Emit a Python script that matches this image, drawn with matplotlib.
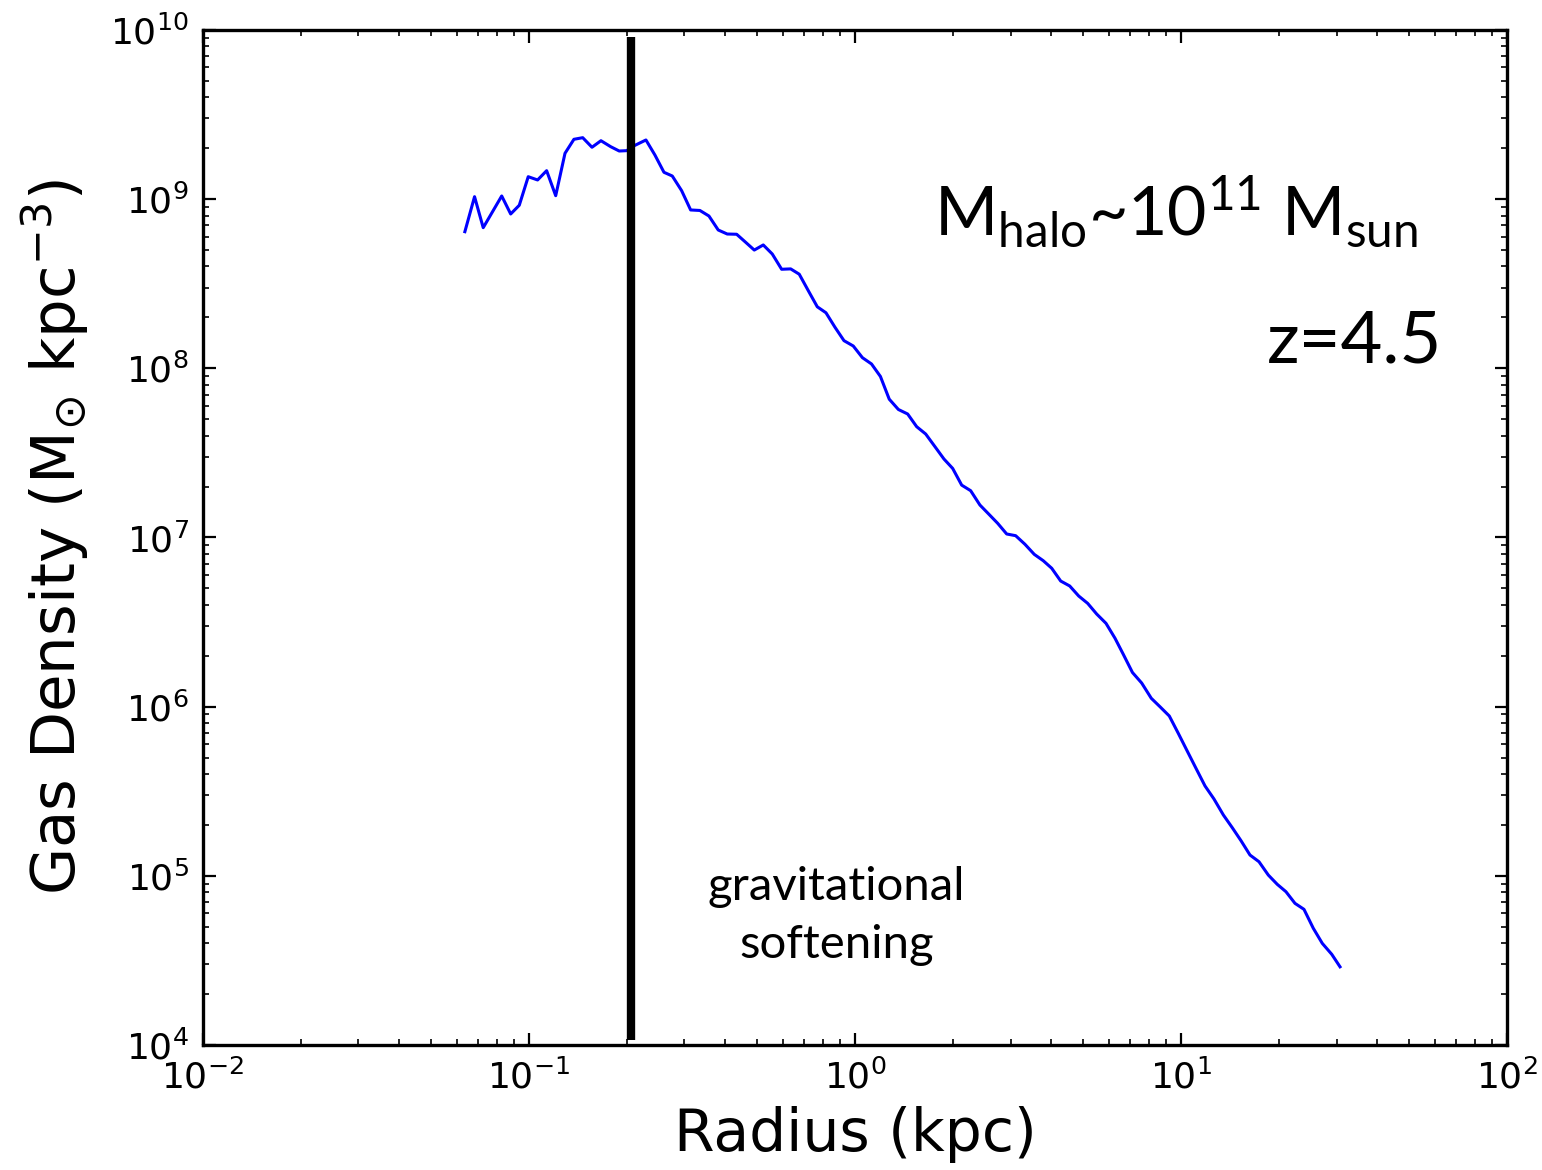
import matplotlib
matplotlib.use("Agg")
import matplotlib.pyplot as plt

# radius (kpc) and gas density (Msun / kpc^3)
radius = [0.0636, 0.0681, 0.0724, 0.0825, 0.0879, 0.0934, 0.0995, 0.1063, 0.1133, 0.1208,
          0.1290, 0.1374, 0.1462, 0.1561, 0.1663, 0.1781, 0.1892, 0.1994, 0.2104, 0.2285,
          0.2434, 0.2595, 0.2752, 0.2940, 0.3133, 0.3345, 0.3565, 0.3807, 0.4057, 0.4336,
          0.4620, 0.4911, 0.5233, 0.5576, 0.5958, 0.6350, 0.6747, 0.7190, 0.7664, 0.8148,
          0.8685, 0.9254, 0.9881, 1.054, 1.124, 1.197, 1.274, 1.359, 1.451, 1.546,
          1.648, 1.760, 1.875, 1.994, 2.125, 2.264, 2.417, 2.571, 2.740, 2.920,
          3.111, 3.322, 3.548, 3.781, 4.013, 4.276, 4.557, 4.856, 5.174, 5.513,
          5.888, 6.274, 6.653, 7.099, 7.576, 8.108, 8.623, 9.208, 9.811, 10.45,
          11.12, 11.85, 12.62, 13.49, 14.37, 15.28, 16.28, 17.35, 18.53, 19.74,
          20.99, 22.37, 23.84, 25.46, 27.13, 29.00, 30.75]
density = [6.42e8, 1.034e9, 6.78e8, 1.044e9, 8.17e8, 9.20e8, 1.357e9, 1.298e9, 1.473e9, 1.048e9,
           1.866e9, 2.258e9, 2.308e9, 2.026e9, 2.215e9, 2.042e9, 1.925e9, 1.934e9, 2.070e9, 2.237e9,
           1.824e9, 1.441e9, 1.370e9, 1.122e9, 8.63e8, 8.57e8, 7.95e8, 6.57e8, 6.22e8, 6.20e8,
           5.56e8, 5.00e8, 5.36e8, 4.74e8, 3.85e8, 3.87e8, 3.60e8, 2.88e8, 2.31e8, 2.13e8,
           1.748e8, 1.457e8, 1.355e8, 1.156e8, 1.061e8, 8.95e7, 6.57e7, 5.71e7, 5.37e7, 4.52e7,
           4.09e7, 3.44e7, 2.91e7, 2.56e7, 2.04e7, 1.891e7, 1.556e7, 1.377e7, 1.213e7, 1.049e7,
           1.025e7, 9.12e6, 7.95e6, 7.29e6, 6.58e6, 5.53e6, 5.17e6, 4.51e6, 4.08e6, 3.53e6,
           3.11e6, 2.54e6, 2.04e6, 1.592e6, 1.380e6, 1.121e6, 9.99e5, 8.81e5, 6.96e5, 5.47e5,
           4.32e5, 3.40e5, 2.85e5, 2.29e5, 1.925e5, 1.614e5, 1.328e5, 1.212e5, 1.011e5, 8.91e4,
           8.06e4, 6.88e4, 6.34e4, 4.90e4, 3.99e4, 3.44e4, 2.90e4]

softening = 0.205  # kpc
xlim = (1e-2, 1e2)
ylim = (1e4, 1e10)

plt.rcParams['mathtext.fontset'] = 'custom'
plt.rcParams['mathtext.rm'] = 'Lato'
plt.rcParams['mathtext.sf'] = 'DejaVu Sans'

fig = plt.figure(figsize=(15.42, 11.7), dpi=100)
ax = fig.add_axes([0.1316, 0.1068, 0.8457, 0.8676])

ax.plot(radius, density, color='#0000ff', lw=2.2)
ax.vlines(softening, 1.07e4, 9.1e9, color='black', lw=6)

ax.set_xscale('log')
ax.set_yscale('log')
ax.set_xlim(*xlim)
ax.set_ylim(*ylim)

for s in ax.spines.values():
    s.set_linewidth(2.4)
ax.tick_params(which='both', direction='in', top=True, right=True)
ax.tick_params(which='major', length=9, width=1.6, labelsize=26, pad=10)
ax.tick_params(which='minor', length=4, width=1.2)
for lab in ax.get_xticklabels() + ax.get_yticklabels():
    lab.set_family('DejaVu Sans')

ax.set_xlabel('Radius (kpc)', fontsize=42, family='DejaVu Sans', labelpad=8)
ax.set_ylabel(r'Gas Density (M$_{\mathsf{\odot}}$ kpc$^{\mathsf{-3}}$)', fontsize=44,
              family='DejaVu Sans', labelpad=14)

ax.text(0.932, 0.798, r'M$_{\rm halo}$~10$^{\rm 11}$ M$_{\rm sun}$', transform=ax.transAxes,
        fontsize=49, family='Lato', ha='right', va='baseline')
ax.text(0.950, 0.672, 'z=4.5', transform=ax.transAxes,
        fontsize=52, family='Lato', ha='right', va='baseline')
ax.text(0.486, 0.127, 'gravitational\nsoftening', transform=ax.transAxes,
        fontsize=34, family='Lato', ha='center', va='center', linespacing=1.45)

fig.savefig('out.png', dpi=100)
